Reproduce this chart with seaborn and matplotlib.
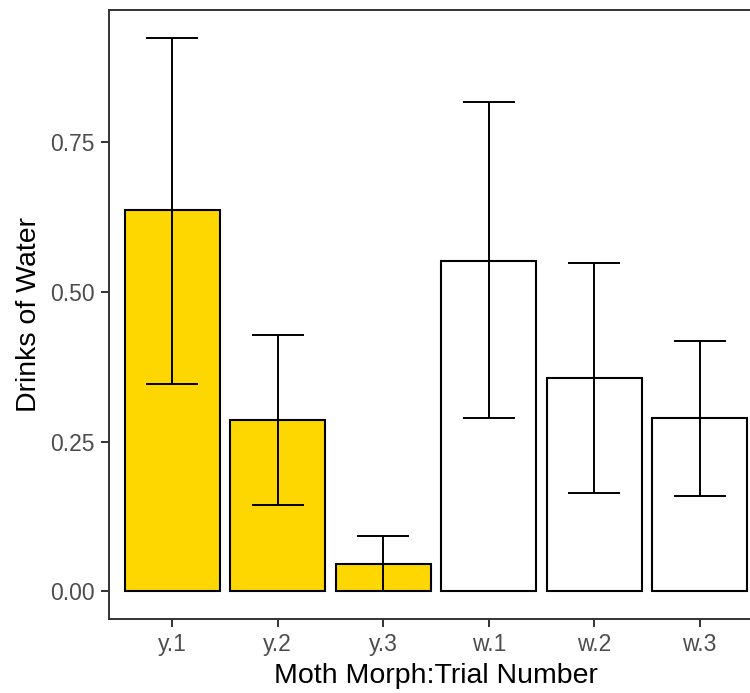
import numpy as np
import pandas as pd
import matplotlib
matplotlib.use("Agg")
import matplotlib.pyplot as plt
import seaborn as sns

# Mean drinks of water per moth morph and trial, with error bar limits
groups = ["y.1", "y.2", "y.3", "w.1", "w.2", "w.3"]
means = [0.637, 0.286, 0.045, 0.552, 0.357, 0.289]
lower = [0.346, 0.145, 0.0, 0.289, 0.165, 0.159]
upper = [0.925, 0.428, 0.092, 0.818, 0.548, 0.418]
fills = ["#FFD700", "#FFD700", "#FFD700", "#FFFFFF", "#FFFFFF", "#FFFFFF"]

df = pd.DataFrame({"group": groups, "mean": means, "lo": lower, "hi": upper})

sns.set_theme(style="white")
plt.rcParams["font.family"] = ["Liberation Sans", "DejaVu Sans"]

fig = plt.figure(figsize=(7.5, 6.93), dpi=100)
ax = fig.add_axes([109 / 750, 1 - 619 / 693, 654 / 750, 609 / 693])

sns.barplot(data=df, x="group", y="mean", hue="group",
            palette=dict(zip(groups, fills)), order=groups,
            edgecolor="black", linewidth=1.5, width=0.9, saturation=1,
            legend=False, ax=ax, errorbar=None)

xs = np.arange(len(groups))
m = np.array(means)
ax.errorbar(xs, m, yerr=[m - np.array(lower), np.array(upper) - m],
            fmt="none", ecolor="black", elinewidth=1.4, capsize=19,
            capthick=1.4, zorder=5)

# ggplot-style 5% expansion on y, 0.6 units on discrete x
span = max(upper) - 0
ax.set_ylim(-0.05 * span, max(upper) + 0.05 * span)
ax.set_xlim(-0.6, len(groups) - 0.4)
ax.set_yticks([0.0, 0.25, 0.5, 0.75])
ax.set_yticklabels(["0.00", "0.25", "0.50", "0.75"])

for s in ax.spines.values():
    s.set_visible(True)
    s.set_color("#333333")
    s.set_linewidth(1.4)

ax.tick_params(axis="both", which="major", length=6, width=1.4,
               color="#333333", labelcolor="#4D4D4D", labelsize=16.5,
               direction="out", pad=4)
ax.tick_params(axis="x", bottom=True)
ax.tick_params(axis="y", left=True)
ax.grid(False)

ax.set_xlabel("Moth Morph:Trial Number", fontsize=20.5, color="black", labelpad=5)
ax.set_ylabel("Drinks of Water", fontsize=20.5, color="black", labelpad=6)

fig.savefig("out.png", dpi=100)
